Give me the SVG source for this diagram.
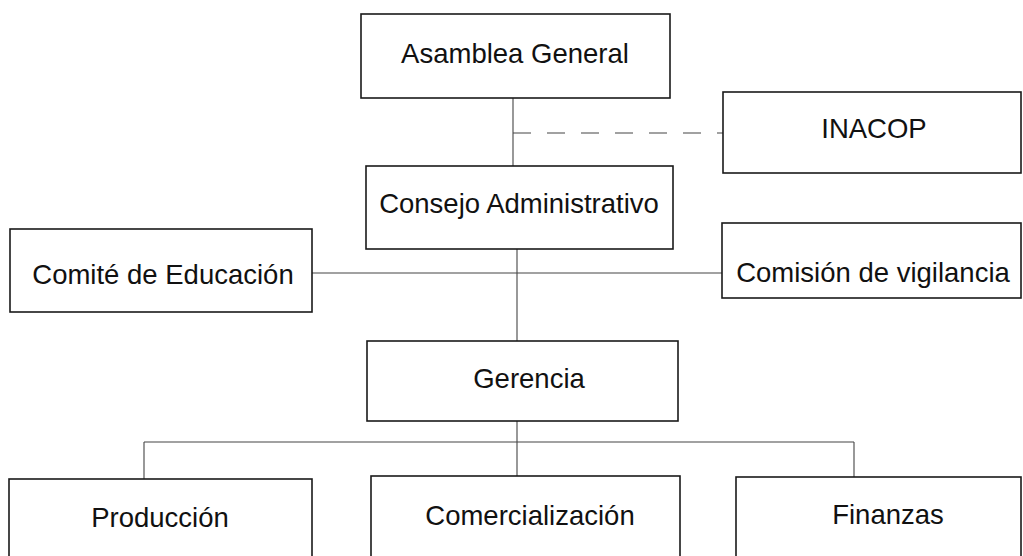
<svg xmlns="http://www.w3.org/2000/svg" width="1023" height="556" viewBox="0 0 1023 556">
<style>
.box{fill:#fff;stroke:#1a1a1a;stroke-width:1.6}
.lbl{font-family:"Liberation Sans",Arial,sans-serif;font-size:27.5px;fill:#111;text-anchor:middle}
.con{fill:none;stroke:#444;stroke-width:1.1}
.dash{stroke-dasharray:18 16}
</style>
<rect width="1023" height="556" fill="#fff"/>
<g id="connectors">
<line class="con" x1="513" y1="98" x2="513" y2="166"/>
<line class="con dash" x1="513" y1="133" x2="723" y2="133"/>
<line class="con" x1="517" y1="249" x2="517" y2="341"/>
<line class="con" x1="312" y1="273" x2="722" y2="273"/>
<line class="con" x1="517" y1="421" x2="517" y2="476"/>
<line class="con" x1="144" y1="442" x2="854" y2="442"/>
<line class="con" x1="144" y1="442" x2="144" y2="479"/>
<line class="con" x1="854" y1="442" x2="854" y2="477"/>
</g>
<g id="asamblea"><rect class="box" x="361" y="14" width="309" height="84"/><text class="lbl" x="515" y="63">Asamblea General</text></g>
<g id="inacop"><rect class="box" x="723" y="92" width="298" height="81"/><text class="lbl" x="874" y="138">INACOP</text></g>
<g id="consejo"><rect class="box" x="366" y="166" width="307" height="83"/><text class="lbl" x="519" y="213">Consejo Administrativo</text></g>
<g id="comite"><rect class="box" x="10" y="229" width="302" height="83"/><text class="lbl" x="163" y="284">Comité de Educación</text></g>
<g id="comision"><rect class="box" x="722" y="223" width="299" height="75"/><text class="lbl" x="873" y="282">Comisión de vigilancia</text></g>
<g id="gerencia"><rect class="box" x="367" y="341" width="311" height="80"/><text class="lbl" x="529" y="388">Gerencia</text></g>
<g id="produccion"><rect class="box" x="9" y="479" width="303" height="100"/><text class="lbl" x="160" y="527">Producción</text></g>
<g id="comercializacion"><rect class="box" x="371" y="476" width="309" height="100"/><text class="lbl" x="530" y="525">Comercialización</text></g>
<g id="finanzas"><rect class="box" x="736" y="477" width="285" height="100"/><text class="lbl" x="888" y="524">Finanzas</text></g>
</svg>
